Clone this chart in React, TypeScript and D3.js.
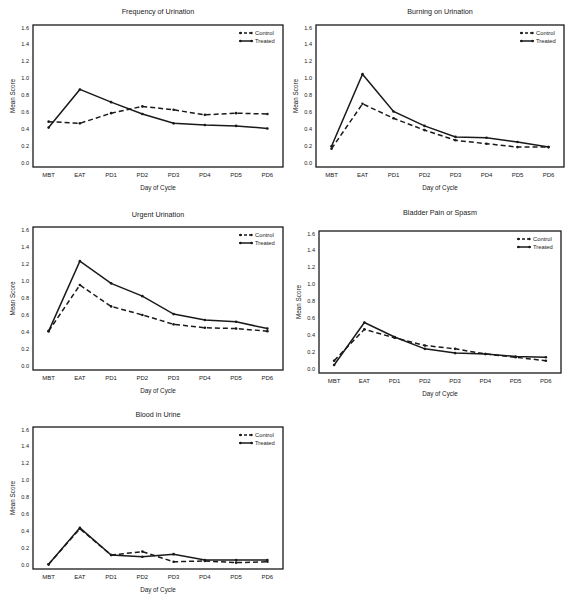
import React from "react";
import * as d3 from "d3";

const days = ["MBT", "EAT", "PD1", "PD2", "PD3", "PD4", "PD5", "PD6"];
const yTicks = [0, 0.2, 0.4, 0.6, 0.8, 1.0, 1.2, 1.4, 1.6];
const seriesNames = ["Control", "Treated"];

const titles = [
  "Frequency of Urination",
  "Burning on Urination",
  "Urgent Urination",
  "Bladder Pain or Spasm",
  "Blood in Urine",
];

const frequencyControl = [0.49, 0.47, 0.59, 0.67, 0.63, 0.57, 0.59, 0.58];
const frequencyTreated = [0.42, 0.87, 0.72, 0.58, 0.47, 0.45, 0.44, 0.41];
const burningControl = [0.17, 0.7, 0.53, 0.39, 0.27, 0.23, 0.19, 0.19];
const burningTreated = [0.2, 1.05, 0.61, 0.44, 0.31, 0.3, 0.25, 0.19];
const urgentControl = [0.41, 0.95, 0.7, 0.6, 0.49, 0.45, 0.44, 0.41];
const urgentTreated = [0.41, 1.23, 0.97, 0.82, 0.61, 0.54, 0.52, 0.44];
const bladderControl = [0.1, 0.47, 0.37, 0.28, 0.24, 0.18, 0.14, 0.1];
const bladderTreated = [0.05, 0.55, 0.38, 0.24, 0.19, 0.18, 0.15, 0.14];
const bloodControl = [0.01, 0.43, 0.12, 0.16, 0.04, 0.05, 0.03, 0.04];
const bloodTreated = [0.01, 0.44, 0.12, 0.1, 0.13, 0.06, 0.06, 0.06];

const controlSeries = [frequencyControl, burningControl, urgentControl, bladderControl, bloodControl];
const treatedSeries = [frequencyTreated, burningTreated, urgentTreated, bladderTreated, bloodTreated];

// frame layout: [x, y, width, height]
const frames: [number, number, number, number][] = [
  [33, 25, 250, 142],
  [316, 25, 248, 142],
  [33, 227, 250, 143],
  [319, 231, 242, 142],
  [33, 427, 250, 142],
];
const titleGap = [11.5, 11.5, 10.5, 16.5, 10.5];

const FONT = "'Liberation Sans', Arial, sans-serif";
const INK = "#1a1a1a";

function Panel({ idx }: { idx: number }) {
  const [fx, fy, fw, fh] = frames[idx];
  const x = d3.scalePoint<string>().domain(days).range([fx, fx + fw]).padding(0.5);
  const y = d3.scaleLinear().domain([-0.045, 1.63]).range([fy + fh, fy]);
  const line = d3
    .line<number>()
    .x((_, i) => x(days[i]) as number)
    .y((d) => y(d));
  const ctrl = controlSeries[idx];
  const trt = treatedSeries[idx];
  const lx = fx + fw - 44;
  return (
    <g fontFamily={FONT} fill={INK}>
      <text x={fx + fw / 2} y={fy - titleGap[idx]} textAnchor="middle" fontSize={7.2}>
        {titles[idx]}
      </text>
      <rect x={fx} y={fy} width={fw} height={fh} fill="none" stroke={INK} strokeWidth={1.3} />
      {yTicks.map((t) => (
        <text key={t} x={fx - 4} y={y(t) + 2} textAnchor="end" fontSize={5.6}>
          {t.toFixed(1)}
        </text>
      ))}
      {days.map((d) => (
        <text key={d} x={x(d)} y={fy + fh + 10} textAnchor="middle" fontSize={6}>
          {d}
        </text>
      ))}
      <text x={fx + fw / 2} y={fy + fh + 22.5} textAnchor="middle" fontSize={6.3}>
        Day of Cycle
      </text>
      <text
        transform={`translate(${fx - 18},${fy + fh / 2}) rotate(-90)`}
        textAnchor="middle"
        fontSize={6.3}
      >
        Mean Score
      </text>
      <path d={line(ctrl) ?? ""} fill="none" stroke={INK} strokeWidth={1.5} strokeDasharray="5,3" />
      <path d={line(trt) ?? ""} fill="none" stroke={INK} strokeWidth={1.5} />
      {ctrl.map((v, i) => (
        <circle key={"c" + i} cx={x(days[i])} cy={y(v)} r={1.3} fill={INK} />
      ))}
      {trt.map((v, i) => (
        <circle key={"t" + i} cx={x(days[i])} cy={y(v)} r={1.3} fill={INK} />
      ))}
      {seriesNames.map((s, k) => (
        <g key={s}>
          <line
            x1={lx}
            x2={lx + 14}
            y1={fy + 8 + k * 8}
            y2={fy + 8 + k * 8}
            stroke={INK}
            strokeWidth={1.5}
            strokeDasharray={k === 0 ? "3,2" : undefined}
          />
          <circle cx={lx + 1.5} cy={fy + 8 + k * 8} r={1.2} fill={INK} />
          <circle cx={lx + 12.5} cy={fy + 8 + k * 8} r={1.2} fill={INK} />
          <text x={lx + 16} y={fy + 10 + k * 8} fontSize={5.8}>
            {s}
          </text>
        </g>
      ))}
    </g>
  );
}

export default function App() {
  return (
    <svg width={572} height={600} style={{ position: "absolute", left: 0, top: 0, background: "#fff" }}>
      <rect width={572} height={600} fill="#fff" />
      {titles.map((_, i) => (
        <Panel key={i} idx={i} />
      ))}
    </svg>
  );
}
